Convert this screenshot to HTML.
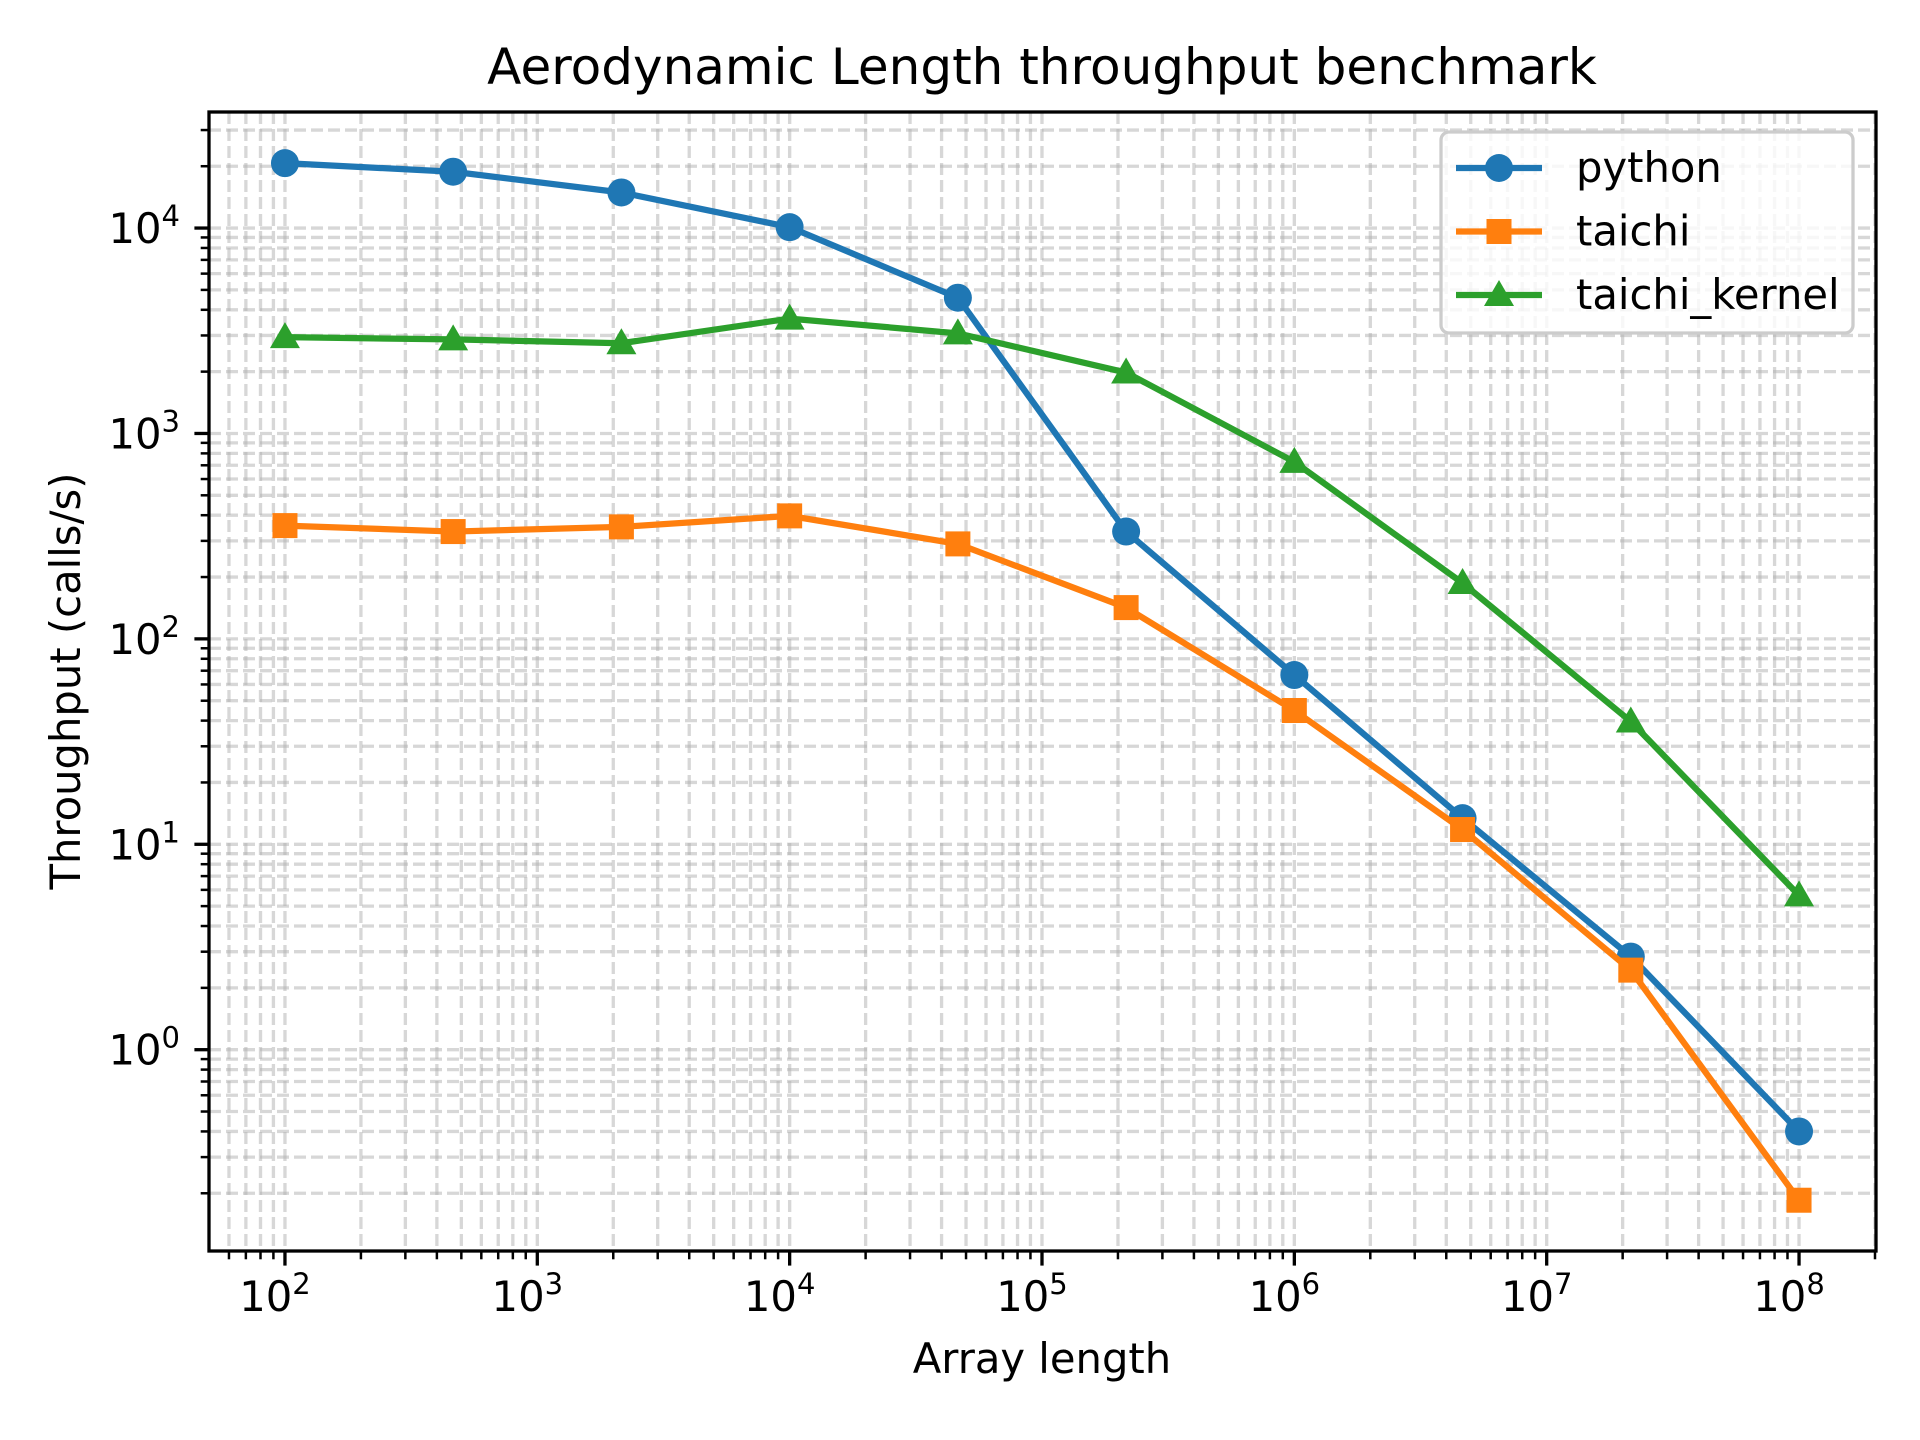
<!DOCTYPE html>
<html><head><meta charset="utf-8"><style>
html,body{margin:0;padding:0;background:#fff;}
svg{display:block;font-family:"DejaVu Sans","Liberation Sans",sans-serif;}
</style></head><body>
<svg id="chart" width="1920" height="1440" viewBox="0 0 1920 1440">
<rect width="1920" height="1440" fill="#fff"/>
<g id="grid"></g><g id="ticks"></g><g id="series"></g>
<rect x="209" y="112" width="1667" height="1139" fill="none" stroke="#000" stroke-width="3.3"/>
<text x="1042" y="84" font-size="50" text-anchor="middle">Aerodynamic Length throughput benchmark</text>
<text x="1042" y="1373" font-size="41.7" text-anchor="middle">Array length</text>
<text x="80" y="681" font-size="41.7" text-anchor="middle" transform="rotate(-90 80 681)">Throughput (calls/s)</text>
<g id="legend"></g>
</svg>
<script>
const xValues=[100,464,2154,10000,46416,215443,1000000,4641589,21544347,100000000];
const pythonValues=[20700,18800,14900,10100,4580,333,66.7,13.4,2.84,0.40];
const taichiValues=[356,333,351,397,290,142,44.8,11.8,2.44,0.185];
const kernelValues=[2944,2870,2750,3625,3070,1980,727,187,39.6,5.64];
const xTickExps=[2,3,4,5,6,7,8];
const yTickExps=[0,1,2,3,4];
const seriesNames=["python","taichi","taichi_kernel"];

const L=209,R=1876,T=112,B=1251;
const xMin=1.699,xMax=8.305,yMin=-0.980,yMax=4.565;
const sx=v=>L+(Math.log10(v)-xMin)/(xMax-xMin)*(R-L);
const sy=v=>B-(Math.log10(v)-yMin)/(yMax-yMin)*(B-T);
const NS="http://www.w3.org/2000/svg";
function mk(tag,attrs,parent){const e=document.createElementNS(NS,tag);for(const k in attrs)e.setAttribute(k,attrs[k]);parent.appendChild(e);return e;}
const grid=document.getElementById('grid'),ticks=document.getElementById('ticks'),ser=document.getElementById('series'),leg=document.getElementById('legend');

for(let d=1;d<=8;d++){for(let m=1;m<10;m++){const v=m*Math.pow(10,d);const lv=Math.log10(v);if(lv<xMin||lv>xMax)continue;const x=sx(v);
 const g=mk('line',{x1:x,x2:x,y1:T,y2:B,stroke:'#b0b0b0','stroke-opacity':0.5,'stroke-width':3.3,'stroke-dasharray':'12,5'},grid);
 
 const len=m===1?14.6:8.3;const t=mk('line',{x1:x,x2:x,y1:B,y2:B+len,stroke:'#000','stroke-width':m===1?3.3:2.5},ticks);
 }}
xTickExps.forEach(e=>{const x=sx(Math.pow(10,e));const t=mk('text',{x:x-10,y:1311,'font-size':41.7,'text-anchor':'middle'},ticks);
 
 t.innerHTML='10<tspan font-size="29" dy="-17">'+e+'</tspan>';});
for(let d=-1;d<=4;d++){for(let m=1;m<10;m++){const v=m*Math.pow(10,d);const lv=Math.log10(v);if(lv<yMin||lv>yMax)continue;const y=sy(v);
 const g=mk('line',{x1:L,x2:R,y1:y,y2:y,stroke:'#b0b0b0','stroke-opacity':0.5,'stroke-width':3.3,'stroke-dasharray':'12,5'},grid);
 
 const len=m===1?14.6:8.3;const t=mk('line',{x1:L-len,x2:L,y1:y,y2:y,stroke:'#000','stroke-width':m===1?3.3:2.5},ticks);
 }}
yTickExps.forEach(e=>{const y=sy(Math.pow(10,e));const t=mk('text',{x:180,y:y+15,'font-size':41.7,'text-anchor':'end'},ticks);
 
 t.innerHTML='10<tspan font-size="29" dy="-17">'+e+'</tspan>';});

function marker(type,x,y,color,parent){let m;
 if(type==='o')m=mk('circle',{cx:x,cy:y,r:14,fill:color},parent);
 else if(type==='s')m=mk('rect',{x:x-12.5,y:y-12.5,width:25,height:25,fill:color},parent);
 else m=mk('polygon',{points:`${x},${y-15} ${x+15},${y+11} ${x-15},${y+11}`,fill:color},parent);
 return m;}
const allSeries=[[pythonValues,'#1f77b4','o'],[taichiValues,'#ff7f0e','s'],[kernelValues,'#2ca02c','^']];
allSeries.forEach(([vals,color,mt],i)=>{
 const g=mk('g',{},ser);
 const pts=vals.map((v,j)=>sx(xValues[j])+','+sy(v)).join(' ');
 const pl=mk('polyline',{points:pts,fill:'none',stroke:color,'stroke-width':6.25,'stroke-linejoin':'round'},g);
 
 vals.forEach((v,j)=>{const m=marker(mt,sx(xValues[j]),sy(v),color,g);
  });
});
const box=mk('rect',{x:1441,y:132,width:412,height:201,rx:8,fill:'#fff','fill-opacity':0.8,stroke:'#ccc','stroke-width':3.3},leg);

allSeries.forEach(([vals,color,mt],i)=>{const y=168+i*63.5;
 const g=mk('g',{},leg);
 mk('line',{x1:1456,x2:1542,y1:y,y2:y,stroke:color,'stroke-width':6.25},g);
 marker(mt,1499,y,color,g);
 const t=mk('text',{x:1576,y:y+14,'font-size':41.7},g);t.textContent=seriesNames[i];
 });
</script>
</body></html>
